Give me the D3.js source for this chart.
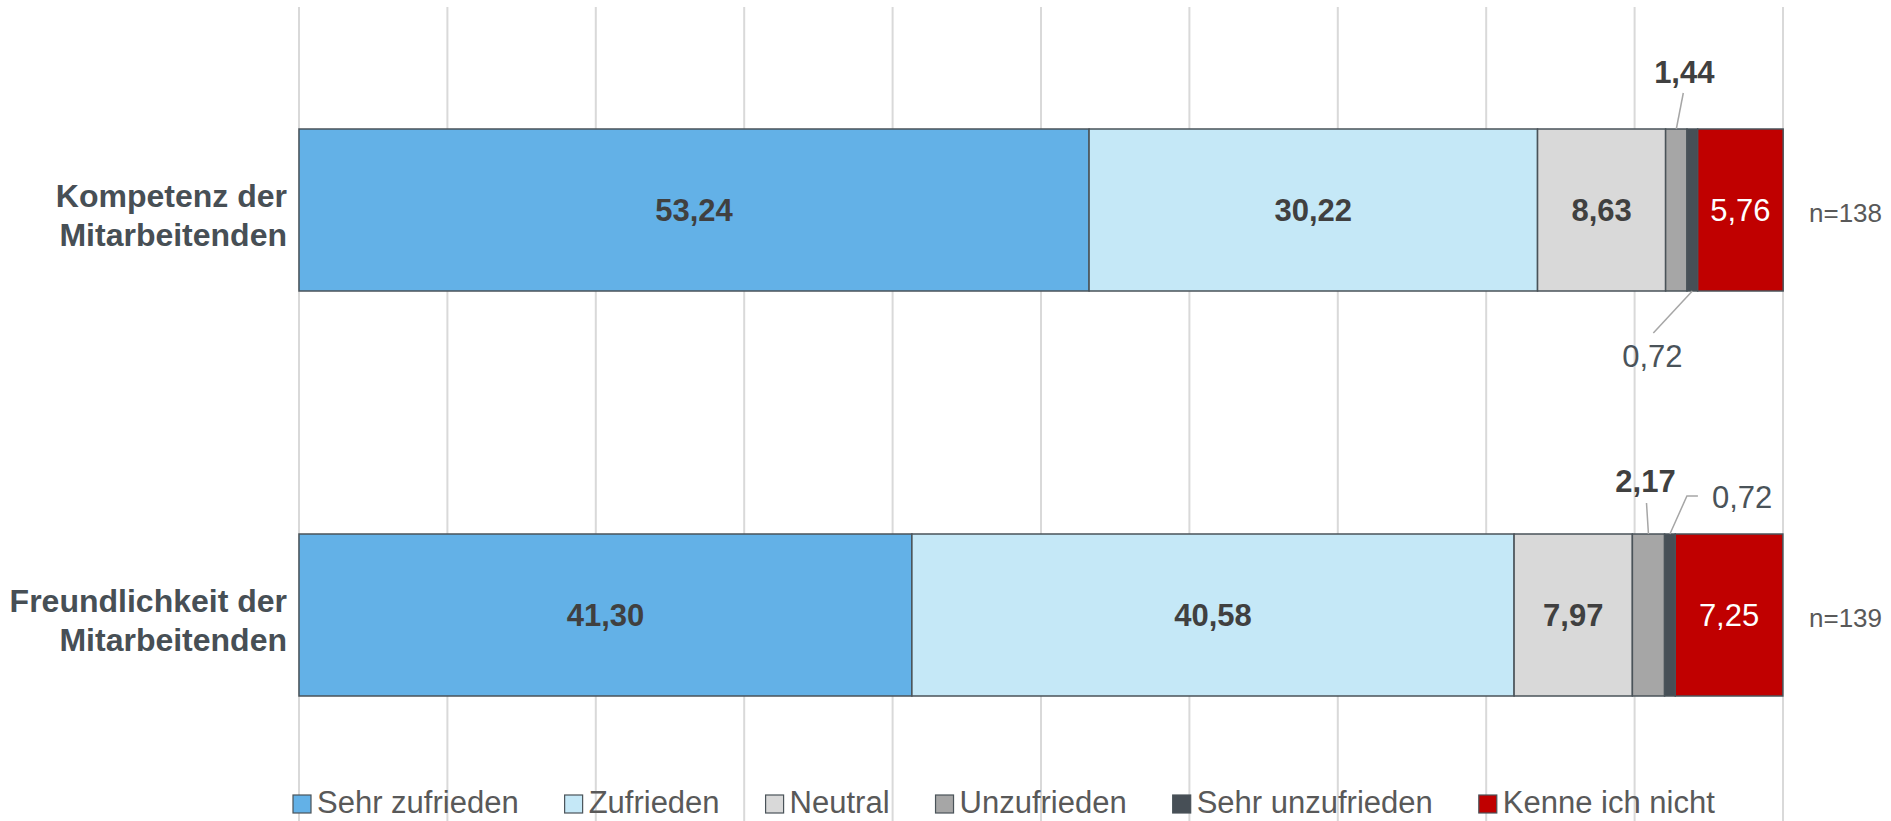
<!DOCTYPE html>
<html>
<head>
<meta charset="utf-8">
<script src="https://cdn.jsdelivr.net/npm/d3@7"></script>
<style>
  body { margin: 0; background: #fff; }
  svg { display: block; font-family: "Liberation Sans", Arial, sans-serif; }
</style>
</head>
<body>
<div id="chart"></div>
<script>
// categories (two lines each) and sample sizes
var categories = ["Kompetenz der Mitarbeitenden", "Freundlichkeit der Mitarbeitenden"];
var categoryLines = [["Kompetenz der", "Mitarbeitenden"], ["Freundlichkeit der", "Mitarbeitenden"]];
var sampleSizes = ["n=138", "n=139"];

// answer series and their values (percent), one value per category
var seriesNames = ["Sehr zufrieden", "Zufrieden", "Neutral", "Unzufrieden", "Sehr unzufrieden", "Kenne ich nicht"];
var sehrZufrieden = [53.24, 41.30];
var zufrieden = [30.22, 40.58];
var neutral = [8.63, 7.97];
var unzufrieden = [1.44, 2.17];
var sehrUnzufrieden = [0.72, 0.72];
var kenneNicht = [5.76, 7.25];

var gridTicks = [0, 10, 20, 30, 40, 50, 60, 70, 80, 90, 100];

var width = 1891;
var height = 821;

// colours for each answer
var color = d3.scaleOrdinal()
  .domain(seriesNames)
  .range(["#63b1e7", "#c5e8f7", "#d9d9d9", "#a6a6a6", "#474f56", "#c00000"]);

// label style per answer
var labelFill = ["#404040", "#404040", "#404040", "#404040", "#4a5359", "#ffffff"];
var labelWeight = ["bold", "bold", "bold", "bold", "normal", "normal"];

var fmt = function (v) { return v.toFixed(2).replace(".", ","); };

// build table for d3.stack
var table = categories.map(function (c, i) {
  return {
    category: c,
    "Sehr zufrieden": sehrZufrieden[i],
    "Zufrieden": zufrieden[i],
    "Neutral": neutral[i],
    "Unzufrieden": unzufrieden[i],
    "Sehr unzufrieden": sehrUnzufrieden[i],
    "Kenne ich nicht": kenneNicht[i]
  };
});

var stacked = d3.stack().keys(seriesNames)(table);

var x = d3.scaleLinear().domain([0, 100]).range([299, 1783]);
var y = d3.scalePoint().domain(categories).range([210, 615]);
var barHeight = 162;

var svg = d3.select("#chart")
  .append("svg")
  .attr("width", width)
  .attr("height", height);

// vertical gridlines
svg.append("g")
  .selectAll("line")
  .data(gridTicks)
  .enter()
  .append("line")
  .attr("x1", function (d) { return x(d); })
  .attr("x2", function (d) { return x(d); })
  .attr("y1", 7)
  .attr("y2", height)
  .attr("stroke", "#d9d9d9")
  .attr("stroke-width", 2);

// stacked segments
var layers = svg.selectAll(".layer")
  .data(stacked)
  .enter()
  .append("g")
  .attr("class", "layer")
  .attr("fill", function (d) { return color(d.key); });

layers.selectAll("rect")
  .data(function (d) { return d; })
  .enter()
  .append("rect")
  .attr("x", function (d) { return x(d[0]); })
  .attr("y", function (d) { return y(d.data.category) - barHeight / 2; })
  .attr("width", function (d) { return x(d[1]) - x(d[0]); })
  .attr("height", barHeight)
  .attr("stroke", "#4a5359")
  .attr("stroke-width", 1.5);

// labels inside the wide segments
stacked.forEach(function (layer, si) {
  layer.forEach(function (d, ci) {
    var v = d[1] - d[0];
    if (v < 3) return;
    svg.append("text")
      .attr("x", (x(d[0]) + x(d[1])) / 2)
      .attr("y", y(d.data.category))
      .attr("dy", "0.36em")
      .attr("text-anchor", "middle")
      .attr("font-size", 31)
      .attr("font-weight", labelWeight[si])
      .attr("fill", labelFill[si])
      .text(fmt(v));
  });
});

// callout labels for the narrow segments: series, category, label offset, leader points
var callouts = [
  { s: 3, c: 0, lx: 8, ly: -46, anchor: "middle", path: [[0, 0], [7, -36]] },
  { s: 4, c: 0, lx: -40, ly: 76, anchor: "middle", path: [[0, 0], [-39, 42]] },
  { s: 3, c: 1, lx: -3, ly: -42, anchor: "middle", path: [[0, 0], [-2, -31]] },
  { s: 4, c: 1, lx: 42, ly: -26, anchor: "start", path: [[0, 0], [17, -38], [28, -38]] }
];

callouts.forEach(function (o) {
  var d = stacked[o.s][o.c];
  var cx = (x(d[0]) + x(d[1])) / 2;
  var edge = o.ly < 0 ? y(d.data.category) - barHeight / 2 : y(d.data.category) + barHeight / 2;
  svg.append("path")
    .attr("d", d3.line()(o.path.map(function (p) { return [cx + p[0], edge + p[1]]; })))
    .attr("fill", "none")
    .attr("stroke", "#a6a6a6")
    .attr("stroke-width", 1.5);
  svg.append("text")
    .attr("x", cx + o.lx)
    .attr("y", edge + o.ly)
    .attr("text-anchor", o.anchor)
    .attr("font-size", 31)
    .attr("font-weight", labelWeight[o.s])
    .attr("fill", labelFill[o.s])
    .text(fmt(d[1] - d[0]));
});

// category labels
categories.forEach(function (c, i) {
  var t = svg.append("text")
    .attr("text-anchor", "end")
    .attr("font-size", 32)
    .attr("font-weight", "bold")
    .attr("fill", "#474f55");
  categoryLines[i].forEach(function (line, li) {
    t.append("tspan")
      .attr("x", x(0) - 12)
      .attr("y", y(c) - 3 + li * 39)
      .text(line);
  });
});

// n labels
categories.forEach(function (c, i) {
  svg.append("text")
    .attr("x", x(100) + 26)
    .attr("y", y(c))
    .attr("dy", "0.45em")
    .attr("font-size", 26)
    .attr("fill", "#595959")
    .text(sampleSizes[i]);
});

// legend
var legend = svg.append("g").attr("transform", "translate(293, 813)");
var legendX = 0;
seriesNames.forEach(function (name) {
  var g = legend.append("g").attr("transform", "translate(" + legendX + ",0)");
  g.append("rect")
    .attr("x", 0)
    .attr("y", -18)
    .attr("width", 18)
    .attr("height", 18)
    .attr("fill", color(name))
    .attr("stroke", "#4a5359")
    .attr("stroke-width", 1.2);
  var t = g.append("text")
    .attr("x", 24)
    .attr("y", 0)
    .attr("font-size", 31)
    .attr("fill", "#595959")
    .text(name);
  legendX += 24 + t.node().getComputedTextLength() + 46;
});
</script>
</body>
</html>
